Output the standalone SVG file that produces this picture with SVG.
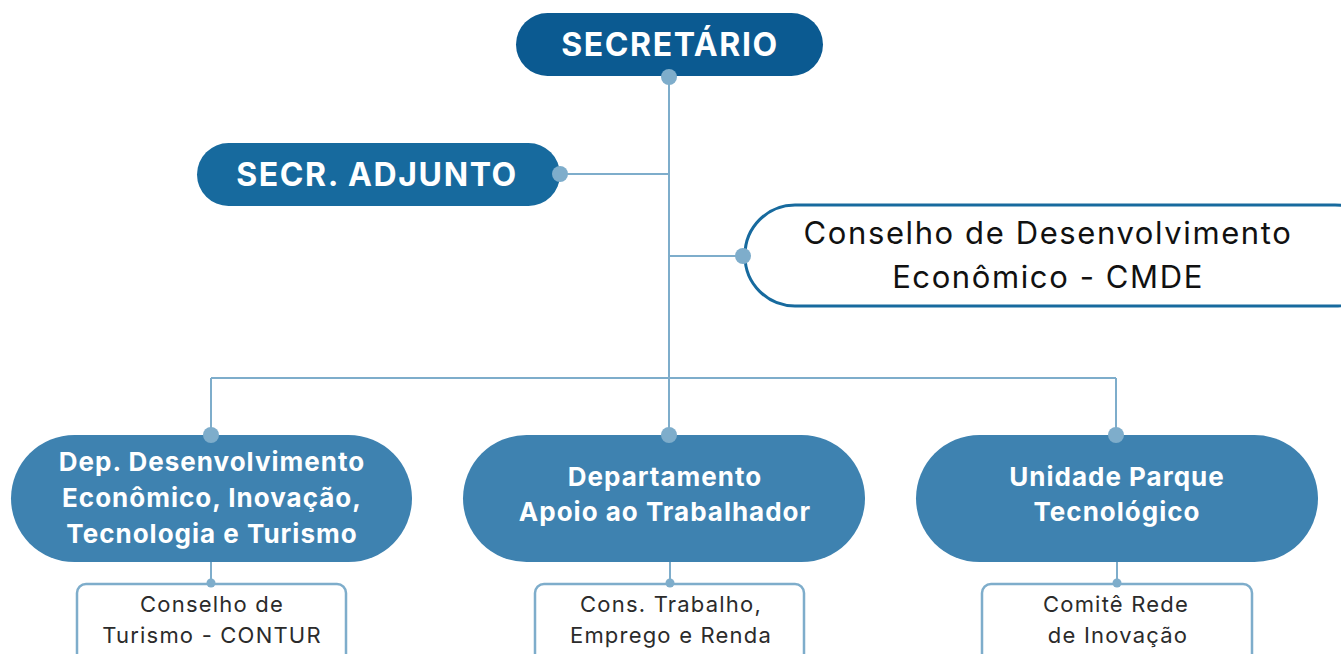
<svg xmlns="http://www.w3.org/2000/svg" width="1341" height="654" viewBox="0 0 1341 654">
<style>
.t{font-family:"Inter","Open Sans","Noto Sans",sans-serif;text-anchor:middle}
.w{fill:#fff;font-weight:700}
.big{font-size:32px;letter-spacing:1.6px}
.dt{font-size:26px;letter-spacing:1px}
.ln{stroke:#7EADCB;stroke-width:2;fill:none}
.dot{fill:#7EADCB}
.dep{fill:#3E82B0}
.sub{fill:#fff;stroke:#7EADCB;stroke-width:2.5}
.st{fill:#2b2b2b;font-size:22px;letter-spacing:1.2px}
.ct{fill:#111;font-size:31px;letter-spacing:1.6px}
</style>
<rect width="1341" height="654" fill="#fff"/>
<g id="connectors">
<path class="ln" d="M669 77V435M560 174H669M669 256H743M211 378H1116M211 378V435M1116 378V435M211 562V583M670 562V583M1117 562V583"/>
</g>
<g id="secretario">
<rect x="516" y="13" width="307" height="63" rx="31.5" fill="#0B5A91"/>
<text class="t w big" x="670" y="56">SECRETÁRIO</text>
<circle class="dot" cx="669" cy="77" r="8"/>
</g>
<g id="adjunto">
<rect x="197" y="143" width="363" height="63" rx="31.5" fill="#176A9E"/>
<text class="t w big" x="377" y="186">SECR. ADJUNTO</text>
<circle class="dot" cx="560" cy="174" r="8"/>
</g>
<g id="cmde">
<rect x="745" y="205" width="640" height="101" rx="50" fill="#fff" stroke="#176A9E" stroke-width="3"/>
<text class="t ct" x="1048" y="244">Conselho de Desenvolvimento</text>
<text class="t ct" x="1048" y="288">Econômico - CMDE</text>
<circle class="dot" cx="743" cy="256" r="8"/>
</g>
<g id="dep1">
<rect class="dep" x="11" y="435" width="401" height="127" rx="63.5"/>
<text class="t w dt" x="212" y="471">Dep. Desenvolvimento</text>
<text class="t w dt" x="212" y="507">Econômico, Inovação,</text>
<text class="t w dt" x="212" y="543">Tecnologia e Turismo</text>
<circle class="dot" cx="211" cy="435" r="8"/>
</g>
<g id="dep2">
<rect class="dep" x="463" y="435" width="402" height="127" rx="63.5"/>
<text class="t w dt" x="665" y="486">Departamento</text>
<text class="t w dt" x="665" y="521">Apoio ao Trabalhador</text>
<circle class="dot" cx="669" cy="435" r="8"/>
</g>
<g id="dep3">
<rect class="dep" x="916" y="435" width="402" height="127" rx="63.5"/>
<text class="t w dt" x="1117" y="486">Unidade Parque</text>
<text class="t w dt" x="1117" y="521">Tecnológico</text>
<circle class="dot" cx="1116" cy="435" r="8"/>
</g>
<g id="contur">
<rect class="sub" x="77" y="584" width="269" height="90" rx="9"/>
<text class="t st" x="212" y="612">Conselho de</text>
<text class="t st" x="212" y="643">Turismo - CONTUR</text>
<circle class="dot" cx="211" cy="583" r="4.5"/>
</g>
<g id="cter">
<rect class="sub" x="535" y="584" width="269" height="90" rx="9"/>
<text class="t st" x="671" y="612">Cons. Trabalho,</text>
<text class="t st" x="671" y="643">Emprego e Renda</text>
<circle class="dot" cx="670" cy="583" r="4.5"/>
</g>
<g id="comite">
<rect class="sub" x="982" y="584" width="270" height="90" rx="9"/>
<text class="t st" x="1116" y="612">Comitê Rede</text>
<text class="t st" x="1118" y="643">de Inovação</text>
<circle class="dot" cx="1117" cy="583" r="4.5"/>
</g>
</svg>
